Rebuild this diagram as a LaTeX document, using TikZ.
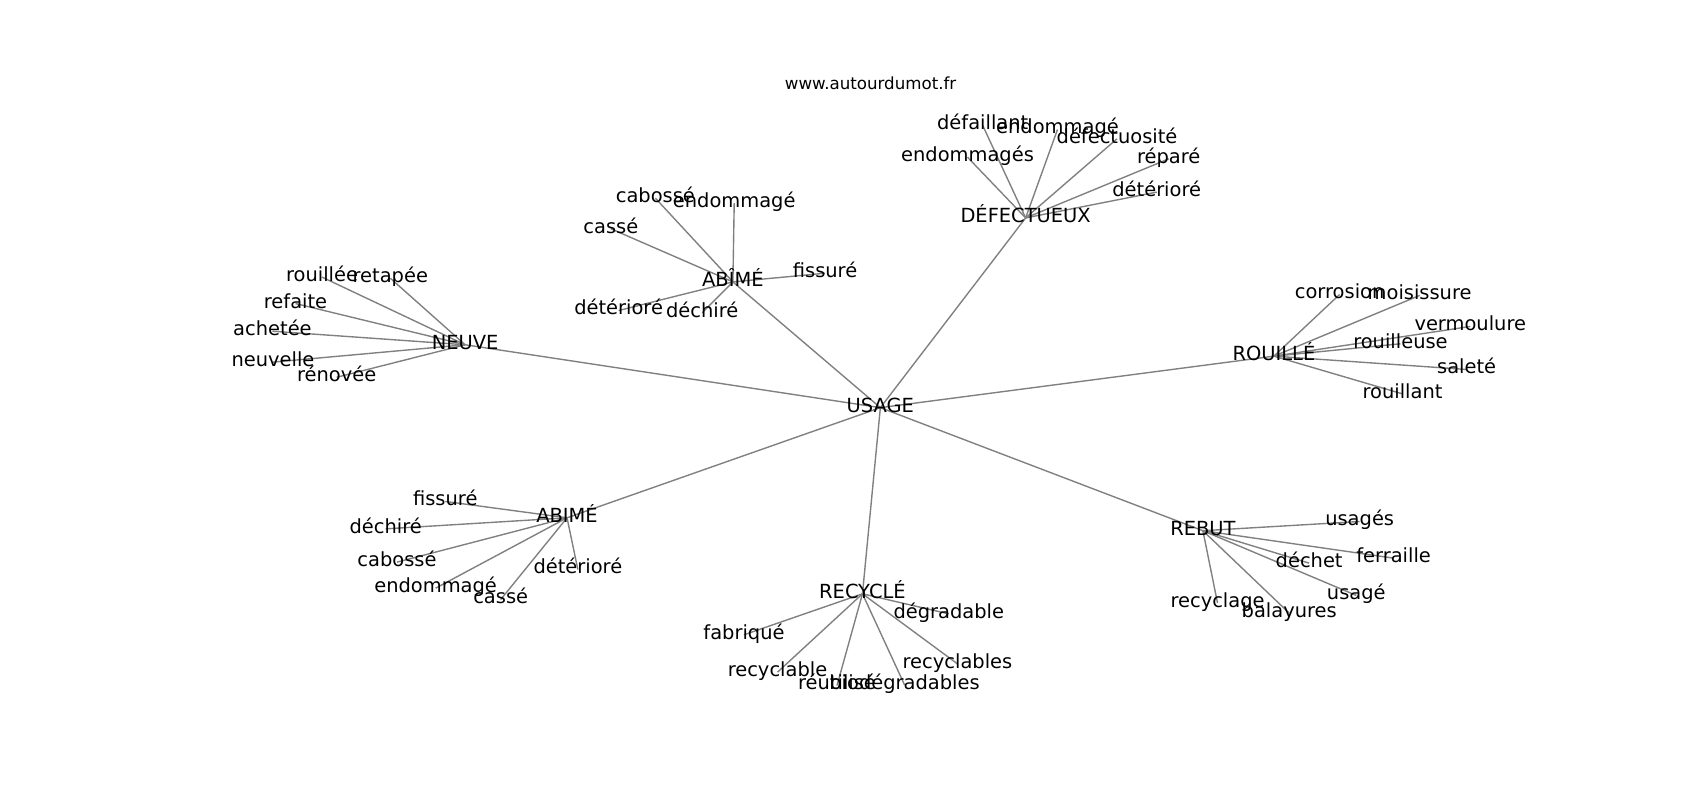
\documentclass[tikz,border=0pt]{standalone}
\usepackage{fontspec}
\setmainfont{DejaVu Sans}
\pgfdeclarelayer{edges}
\pgfsetlayers{edges,main}
\definecolor{edgegray}{RGB}{128,128,128}
\tikzset{
  lbl/.style={inner sep=0pt, text height=0.88em, text depth=0.24em, anchor=center, font=\fontsize{14bp}{16bp}\selectfont},
  ttl/.style={inner sep=0pt, anchor=center, font=\fontsize{12bp}{14bp}\selectfont},
  lnk/.style={draw=edgegray, line width=1bp}
}
\begin{document}
\begin{tikzpicture}[x=0.78061bp,y=-0.78061bp]
\useasboundingbox (0,0) rectangle (1568,738);
\node[ttl] (title) at (803,77) {www.autourdumot.fr};
% hubs
\node[lbl] (u) at (812,376) {USAGE};
\node[lbl] (neuve) at (429,318) {NEUVE};
\node[lbl] (abi1) at (676,260) {ABÎMÉ};
\node[lbl] (def) at (946,201) {DÉFECTUEUX};
\node[lbl] (rou) at (1175,328.5) {ROUILLÉ};
\node[lbl] (reb) at (1109.5,489.5) {REBUT};
\node[lbl] (rec) at (795.5,547.7) {RECYCLÉ};
\node[lbl] (abi2) at (523,477.6) {ABIMÉ};
% NEUVE leaves
\node[lbl] (n1) at (297,255.6) {rouillée};
\node[lbl] (n2) at (360,256.6) {retapée};
\node[lbl] (n3) at (272.6,280) {refaite};
\node[lbl] (n4) at (251.3,305.5) {achetée};
\node[lbl] (n5) at (251.8,334) {neuvelle};
\node[lbl] (n6) at (310.5,348) {rénovée};
% ABÎMÉ leaves
\node[lbl] (a1) at (604.5,182.8) {cabossé};
\node[lbl] (a2) at (677.2,187.4) {endommagé};
\node[lbl] (a3) at (563.4,211) {cassé};
\node[lbl] (a4) at (761,252) {fissuré};
\node[lbl] (a5) at (570.6,286.4) {détérioré};
\node[lbl] (a6) at (647.7,288.5) {déchiré};
% DÉFECTUEUX leaves
\node[lbl] (d1) at (906.4,115.7) {défaillant};
\node[lbl] (d2) at (975.4,119.4) {endommagé};
\node[lbl] (d3) at (1030.3,128) {défectuosité};
\node[lbl] (d4) at (892.4,145) {endommagés};
\node[lbl] (d5) at (1078,146.5) {réparé};
\node[lbl] (d6) at (1066.9,177.2) {détérioré};
% ROUILLÉ leaves
\node[lbl] (r1) at (1235.6,271.6) {corrosion};
\node[lbl] (r2) at (1309.4,272.5) {moisissure};
\node[lbl] (r3) at (1356.1,301.1) {vermoulure};
\node[lbl] (r4) at (1291.7,317.1) {rouilleuse};
\node[lbl] (r5) at (1352.8,340.8) {saleté};
\node[lbl] (r6) at (1293.6,363.3) {rouillant};
% REBUT leaves
\node[lbl] (b1) at (1254.1,481) {usagés};
\node[lbl] (b2) at (1285.4,514.8) {ferraille};
\node[lbl] (b3) at (1207.5,519.4) {déchet};
\node[lbl] (b4) at (1251,549.2) {usagé};
\node[lbl] (b5) at (1123,556.3) {recyclage};
\node[lbl] (b6) at (1189.1,565.5) {balayures};
% RECYCLÉ leaves
\node[lbl] (c1) at (875.1,566.2) {dégradable};
\node[lbl] (c2) at (686.2,585.5) {fabriqué};
\node[lbl] (c3) at (883.1,612.3) {recyclables};
\node[lbl] (c4) at (717.1,620) {recyclable};
\node[lbl] (c5) at (772,632.3) {réutilisé};
\node[lbl] (c6) at (834.3,631.7) {biodégradables};
% ABIMÉ leaves
\node[lbl] (e1) at (410.7,462.5) {fissuré};
\node[lbl] (e2) at (355.7,487.8) {déchiré};
\node[lbl] (e3) at (366.2,518.5) {cabossé};
\node[lbl] (e4) at (533,525.3) {détérioré};
\node[lbl] (e5) at (401.8,542.5) {endommagé};
\node[lbl] (e6) at (461.8,553) {cassé};
\begin{pgfonlayer}{edges}
\foreach \h in {neuve,abi1,def,rou,reb,rec,abi2}
  \draw[lnk] (u.center) -- (\h.center);
\foreach \h/\p in {neuve/n,abi1/a,def/d,rou/r,reb/b,rec/c,abi2/e}
  \foreach \i in {1,...,6}
    \draw[lnk] (\h.center) -- (\p\i.center);
\end{pgfonlayer}
\end{tikzpicture}
\end{document}
